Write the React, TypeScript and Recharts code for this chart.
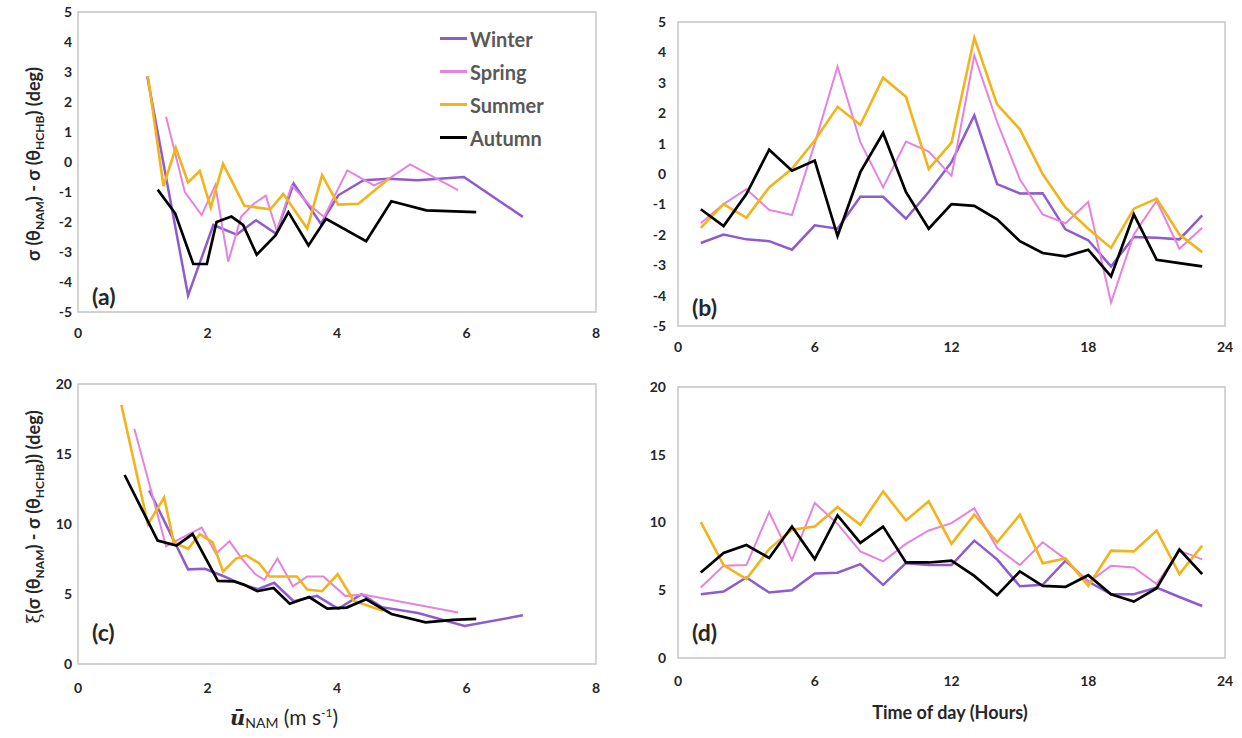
import { Legend, Line, LineChart, ReferenceArea, XAxis, YAxis } from "recharts";

// season order / colours
const seasons = ["Winter", "Spring", "Summer", "Autumn"];
const seasonColors = ["#8e5bd0", "#e683de", "#f2b41a", "#000000"];

// (a) sigma difference vs mean NAM wind speed
const winterSpeedA = [1.07, 1.7, 2.09, 2.45, 2.75, 3.06, 3.33, 3.75, 4.02, 4.41, 4.8, 5.24, 5.96, 6.87];
const winterDiffA = [2.85, -4.45, -2.1, -2.42, -1.94, -2.39, -0.72, -2.06, -1.11, -0.61, -0.56, -0.61, -0.5, -1.83];
const springSpeedA = [1.36, 1.65, 1.91, 2.12, 2.32, 2.52, 2.71, 2.9, 3.07, 3.3, 3.58, 3.8, 4.16, 4.57, 4.8, 5.13, 5.87];
const springDiffA = [1.51, -1.0, -1.77, -0.77, -3.32, -1.82, -1.4, -1.12, -2.3, -0.78, -1.44, -1.83, -0.28, -0.78, -0.56, -0.08, -0.94];
const summerSpeedA = [1.08, 1.32, 1.51, 1.7, 1.88, 2.05, 2.24, 2.57, 2.97, 3.17, 3.54, 3.77, 4.02, 4.33, 4.8];
const summerDiffA = [2.86, -0.8, 0.47, -0.68, -0.3, -1.52, -0.06, -1.46, -1.58, -1.06, -2.22, -0.44, -1.42, -1.39, -0.56];
const autumnSpeedA = [1.23, 1.5, 1.78, 1.99, 2.14, 2.37, 2.55, 2.76, 3.05, 3.25, 3.56, 3.83, 4.45, 4.84, 5.38, 6.15];
const autumnDiffA = [-0.92, -1.71, -3.4, -3.4, -2.0, -1.82, -2.1, -3.09, -2.45, -1.67, -2.78, -1.89, -2.64, -1.31, -1.61, -1.67];

// (b) sigma difference by hour of day
const hours = [1, 2, 3, 4, 5, 6, 7, 8, 9, 10, 11, 12, 13, 14, 15, 16, 17, 18, 19, 20, 21, 22, 23];
const winterDiffB = [-2.27, -1.99, -2.15, -2.21, -2.49, -1.69, -1.8, -0.75, -0.75, -1.47, -0.59, 0.39, 1.93, -0.33, -0.64, -0.63, -1.82, -2.18, -3.04, -2.07, -2.1, -2.15, -1.36];
const springDiffB = [-1.62, -0.99, -0.5, -1.18, -1.35, 1.0, 3.54, 1.05, -0.44, 1.07, 0.74, -0.06, 3.9, 1.71, -0.17, -1.33, -1.62, -0.92, -4.23, -1.99, -0.88, -2.46, -1.77];
const summerDiffB = [-1.77, -0.99, -1.44, -0.44, 0.17, 1.1, 2.21, 1.62, 3.17, 2.54, 0.17, 1.03, 4.48, 2.29, 1.47, 0.0, -1.1, -1.8, -2.43, -1.14, -0.81, -1.99, -2.57];
const autumnDiffB = [-1.16, -1.71, -0.66, 0.8, 0.11, 0.44, -2.04, 0.06, 1.35, -0.59, -1.8, -0.99, -1.05, -1.49, -2.21, -2.6, -2.71, -2.49, -3.37, -1.33, -2.82, -2.93, -3.04];

// (c) xi of sigma difference vs mean NAM wind speed
const winterSpeedC = [1.1, 1.7, 1.96, 2.25, 2.53, 2.78, 3.03, 3.33, 3.69, 4.02, 4.38, 4.69, 5.25, 5.97, 6.87];
const winterXiC = [12.4, 6.76, 6.8, 6.27, 5.69, 5.34, 5.8, 4.48, 4.87, 3.94, 4.99, 4.06, 3.64, 2.71, 3.48];
const springSpeedC = [0.87, 1.14, 1.36, 1.52, 1.91, 2.13, 2.34, 2.55, 2.74, 2.88, 3.08, 3.32, 3.54, 3.79, 4.13, 4.4, 5.87];
const springXiC = [16.8, 12.19, 8.41, 8.81, 9.74, 7.88, 8.76, 7.41, 6.41, 6.01, 7.53, 5.55, 6.25, 6.25, 4.85, 4.97, 3.68];
const summerSpeedC = [0.67, 1.08, 1.33, 1.48, 1.7, 1.88, 2.08, 2.24, 2.44, 2.6, 2.8, 2.96, 3.38, 3.54, 3.77, 4.01, 4.26, 4.71];
const summerXiC = [18.5, 9.98, 11.89, 8.69, 8.23, 9.28, 8.69, 6.6, 7.53, 7.76, 7.18, 6.25, 6.25, 5.32, 5.2, 6.41, 4.5, 3.8];
const autumnSpeedC = [0.72, 1.23, 1.52, 1.77, 2.16, 2.41, 2.57, 2.77, 3.02, 3.27, 3.57, 3.85, 4.15, 4.45, 4.84, 5.37, 5.79, 6.15];
const autumnXiC = [13.5, 8.81, 8.46, 9.28, 5.94, 5.9, 5.66, 5.2, 5.43, 4.31, 4.78, 3.96, 4.03, 4.62, 3.57, 2.98, 3.15, 3.22];

// (d) xi of sigma difference by hour of day
const winterXiD = [4.7, 4.9, 5.94, 4.83, 5.0, 6.24, 6.29, 6.93, 5.4, 7.0, 6.86, 6.86, 8.66, 7.28, 5.3, 5.4, 7.18, 5.64, 4.7, 4.7, 5.2, 4.5, 3.84];
const springXiD = [5.2, 6.8, 6.86, 10.77, 7.23, 11.44, 9.9, 7.87, 7.13, 8.42, 9.41, 9.95, 11.06, 8.12, 6.86, 8.54, 7.3, 5.57, 6.8, 6.68, 5.45, 7.92, 7.28];
const summerXiD = [10.02, 6.86, 5.82, 8.04, 9.46, 9.7, 11.14, 9.83, 12.3, 10.15, 11.56, 8.42, 10.59, 8.54, 10.57, 7.0, 7.35, 5.32, 7.92, 7.87, 9.41, 6.19, 8.29];
const autumnXiD = [6.31, 7.75, 8.34, 7.38, 9.7, 7.3, 10.52, 8.49, 9.7, 7.05, 7.05, 7.18, 6.06, 4.63, 6.39, 5.32, 5.25, 6.11, 4.7, 4.16, 5.15, 8.0, 6.19];

const speedTicks = [0, 2, 4, 6, 8];
const hourTicks = [0, 6, 12, 18, 24];
const diffTicks = [-5, -4, -3, -2, -1, 0, 1, 2, 3, 4, 5];
const xiTicks = [0, 5, 10, 15, 20];

const zip = (xs: number[], ys: number[]) => xs.map((x, i) => ({ x, y: ys[i] }));

const seriesA = [zip(winterSpeedA, winterDiffA), zip(springSpeedA, springDiffA), zip(summerSpeedA, summerDiffA), zip(autumnSpeedA, autumnDiffA)];
const seriesB = [zip(hours, winterDiffB), zip(hours, springDiffB), zip(hours, summerDiffB), zip(hours, autumnDiffB)];
const seriesC = [zip(winterSpeedC, winterXiC), zip(springSpeedC, springXiC), zip(summerSpeedC, summerXiC), zip(autumnSpeedC, autumnXiC)];
const seriesD = [zip(hours, winterXiD), zip(hours, springXiD), zip(hours, summerXiD), zip(hours, autumnXiD)];

const font = "Lato, 'Open Sans', sans-serif";
const tickStyle = { fontFamily: font, fontWeight: 700, fontSize: 14, fill: "#262626" };
const widths = [2.5, 2, 2.6, 2.7];

function LegendBox({ payload }: any) {
  // keep the legend in season order, not alphabetical
  const items = [...(payload || [])].sort((a: any, b: any) => seasons.indexOf(a.value) - seasons.indexOf(b.value));
  return (
    <div style={{ fontFamily: font, fontWeight: 700, fontSize: 20, color: "#595959" }}>
      {items.map((p: any) => (
        <div key={p.value} style={{ display: "flex", alignItems: "center", height: 33 }}>
          <span style={{ display: "inline-block", width: 27, height: 3, background: p.color, marginRight: 3 }} />
          <span>{p.value}</span>
        </div>
      ))}
    </div>
  );
}

interface PanelProps {
  left: number;
  top: number;
  width: number;
  height: number;
  margin: { top: number; right: number; bottom: number; left: number };
  series: { x: number; y: number }[][];
  xDomain: [number, number];
  xTicks: number[];
  yDomain: [number, number];
  yTicks: number[];
  xTickMargin: number;
  yTickMargin: number;
  legend?: boolean;
}

function Panel(p: PanelProps) {
  return (
    <div style={{ position: "absolute", left: p.left, top: p.top }}>
      <LineChart width={p.width} height={p.height} margin={p.margin}>
        <XAxis
          type="number"
          dataKey="x"
          domain={p.xDomain}
          ticks={p.xTicks}
          interval={0}
          axisLine={false}
          tickLine={false}
          tickSize={0}
          tickMargin={p.xTickMargin}
          height={30}
          tick={tickStyle}
          allowDataOverflow
        />
        <YAxis
          type="number"
          domain={p.yDomain}
          ticks={p.yTicks}
          interval={0}
          axisLine={false}
          tickLine={false}
          tickSize={0}
          tickMargin={p.yTickMargin}
          width={40}
          tick={tickStyle}
          allowDataOverflow
        />
        <ReferenceArea
          x1={p.xDomain[0]}
          x2={p.xDomain[1]}
          y1={p.yDomain[0]}
          y2={p.yDomain[1]}
          fill="none"
          stroke="#c4c4c4"
          strokeWidth={1.4}
          ifOverflow="visible"
        />
        {p.series.map((d, i) => (
          <Line
            key={seasons[i]}
            data={d}
            dataKey="y"
            name={seasons[i]}
            type="linear"
            stroke={seasonColors[i]}
            strokeWidth={widths[i]}
            dot={false}
            activeDot={false}
            isAnimationActive={false}
          />
        ))}
        {p.legend && (
          <Legend
            layout="vertical"
            align="center"
            verticalAlign="middle"
            wrapperStyle={{ left: 440, top: 22, width: 140, height: 140 }}
            content={LegendBox}
          />
        )}
      </LineChart>
    </div>
  );
}

export default function App() {
  const titleStyle = { fontFamily: font, fontWeight: 700, fill: "#262626" } as const;
  return (
    <div style={{ position: "absolute", left: 0, top: 0, width: 1242, height: 738, background: "#fff" }}>
      <Panel
        left={0} top={0} width={610} height={345}
        margin={{ top: 12, right: 14, bottom: 3, left: 38 }}
        series={seriesA} xDomain={[0, 8]} xTicks={speedTicks} yDomain={[-5, 5]} yTicks={diffTicks}
        xTickMargin={16} yTickMargin={6} legend
      />
      <Panel
        left={620} top={0} width={620} height={360}
        margin={{ top: 22, right: 15, bottom: 4, left: 18 }}
        series={seriesB} xDomain={[0, 24]} xTicks={hourTicks} yDomain={[-5, 5]} yTicks={diffTicks}
        xTickMargin={16} yTickMargin={12}
      />
      <Panel
        left={0} top={360} width={610} height={335}
        margin={{ top: 24, right: 14, bottom: 1, left: 38 }}
        series={seriesC} xDomain={[0, 8]} xTicks={speedTicks} yDomain={[0, 20]} yTicks={xiTicks}
        xTickMargin={19} yTickMargin={6}
      />
      <Panel
        left={620} top={360} width={620} height={335}
        margin={{ top: 27, right: 15, bottom: 7, left: 18 }}
        series={seriesD} xDomain={[0, 24]} xTicks={hourTicks} yDomain={[0, 20]} yTicks={xiTicks}
        xTickMargin={18} yTickMargin={12}
      />
      <svg width={1242} height={738} style={{ position: "absolute", left: 0, top: 0, pointerEvents: "none" }}>
        <text transform="translate(40,164) rotate(-90)" textAnchor="middle" fontSize={18} {...titleStyle}>
          σ (θ<tspan dy={4} fontSize={12}>NAM</tspan>
          <tspan dy={-4}>) - σ (θ</tspan>
          <tspan dy={4} fontSize={12}>HCHB</tspan>
          <tspan dy={-4}>) (deg)</tspan>
        </text>
        <text transform="translate(40,517) rotate(-90)" textAnchor="middle" fontSize={18} {...titleStyle}>
          <tspan fontWeight={400} fontFamily="'DejaVu Serif', serif">ξ</tspan>
          <tspan>(σ (θ</tspan>
          <tspan dy={4} fontSize={12}>NAM</tspan>
          <tspan dy={-4}>) - σ (θ</tspan>
          <tspan dy={4} fontSize={12}>HCHB</tspan>
          <tspan dy={-4}>)) (deg)</tspan>
        </text>
        <text x={284} y={725} textAnchor="middle" fontSize={21} fontFamily={font} fill="#262626">
          <tspan fontFamily="'DejaVu Serif', serif" fontStyle="italic" fontWeight={700}>ū</tspan>
          <tspan dy={3} fontSize={14}>NAM</tspan>
          <tspan dy={-3}> (m s</tspan>
          <tspan dy={-8} fontSize={12}>-1</tspan>
          <tspan dy={8}>)</tspan>
        </text>
        <text x={950} y={719} textAnchor="middle" fontSize={18} {...titleStyle}>
          Time of day (Hours)
        </text>
        <text x={92} y={305} fontSize={23} {...titleStyle}>(a)</text>
        <text x={692} y={316} fontSize={23} {...titleStyle}>(b)</text>
        <text x={92} y={641} fontSize={23} {...titleStyle}>(c)</text>
        <text x={692} y={641} fontSize={23} {...titleStyle}>(d)</text>
      </svg>
    </div>
  );
}
